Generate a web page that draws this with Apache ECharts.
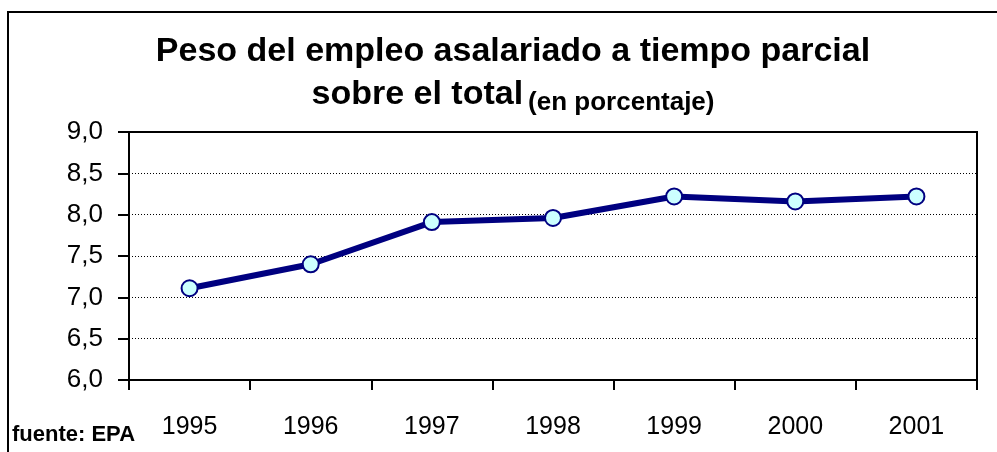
<!DOCTYPE html>
<html>
<head>
<meta charset="utf-8">
<script src="https://cdn.jsdelivr.net/npm/echarts@6/dist/echarts.min.js"></script>
<style>
  html, body { margin: 0; padding: 0; background: #fff; }
  #main { width: 997px; height: 452px; }
</style>
</head>
<body>
<div id="main"></div>
<script>
// datos
var years = ['1995', '1996', '1997', '1998', '1999', '2000', '2001'];
var peso = [7.11, 7.40, 7.91, 7.96, 8.22, 8.16, 8.22];
var yTicks = { min: 6, max: 9, step: 0.5 };

var chart = echarts.init(document.getElementById('main'));
var font = '"Liberation Sans", Arial, sans-serif';

var option = {
    animation: false,
    title: {
        text: '{a|Peso del empleo asalariado a tiempo parcial}\n{a|sobre el total} {b|(en porcentaje)}',
        left: 508,
        top: 25,
        textAlign: 'center',
        textStyle: {
            rich: {
                a: { fontFamily: font, fontWeight: 'bold', fontSize: 34, lineHeight: 43, color: '#000' },
                b: { fontFamily: font, fontWeight: 'bold', fontSize: 26, lineHeight: 29, color: '#000', verticalAlign: 'bottom' }
            }
        }
    },
    grid: {
        left: 129, right: 20, top: 132, bottom: 72,
        show: true, borderColor: '#000', borderWidth: 2, backgroundColor: '#fff'
    },
    xAxis: {
        type: 'category',
        data: years,
        boundaryGap: true,
        axisLine: { lineStyle: { color: '#000', width: 2 } },
        axisTick: { show: true, length: 10, lineStyle: { color: '#000', width: 2 } },
        axisLabel: { color: '#000', fontFamily: font, fontSize: 25, margin: 35 },
        splitLine: { show: false }
    },
    yAxis: {
        type: 'value',
        min: yTicks.min,
        max: yTicks.max,
        interval: yTicks.step,
        axisLine: { show: true, lineStyle: { color: '#000', width: 2 } },
        axisTick: { show: true, length: 11, lineStyle: { color: '#000', width: 2 } },
        axisLabel: {
            color: '#000', fontFamily: font, fontSize: 26, margin: 26,
            formatter: function (v) { return v.toFixed(1).replace('.', ','); }
        },
        splitLine: { show: true, lineStyle: { color: '#000', width: 1, type: [1, 2] } }
    },
    series: [{
        type: 'line',
        data: peso,
        symbol: 'circle',
        symbolSize: 16,
        lineStyle: { color: '#000080', width: 6 },
        itemStyle: { color: '#CCFFFF', borderColor: '#000080', borderWidth: 2 },
        z: 3
    }],
    graphic: [
        {
            type: 'rect', silent: true, z: 10,
            shape: { x: 8, y: 12, width: 1100, height: 600 },
            style: { fill: 'none', stroke: '#000', lineWidth: 2 }
        },
        {
            type: 'text', left: 12, top: 424,
            style: { text: 'fuente: EPA', fontFamily: font, fontWeight: 'bold', fontSize: 22, fill: '#000' }
        }
    ]
};

chart.setOption(option);
</script>
</body>
</html>
